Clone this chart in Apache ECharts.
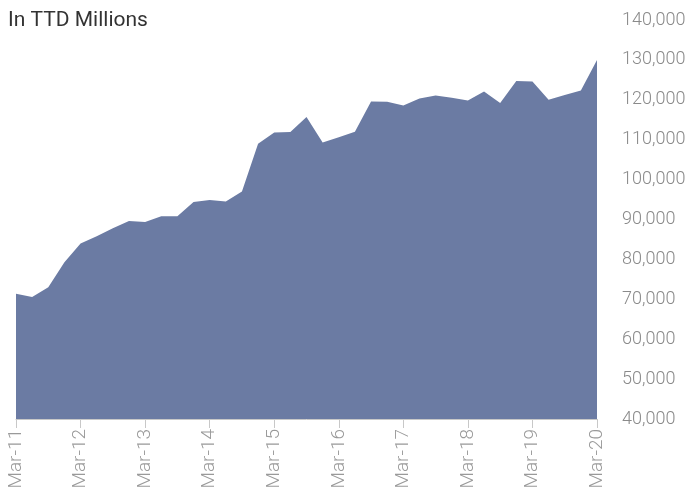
<!DOCTYPE html>
<html>
<head>
<meta charset="utf-8">
<script src="https://cdn.jsdelivr.net/npm/echarts@6/dist/echarts.min.js"></script>
<style>
  html, body { margin: 0; padding: 0; background: #fff; }
  #chart { width: 691px; height: 498px; }
</style>
</head>
<body>
<div id="chart"></div>
<script>
// quarterly, Mar-11 .. Mar-20
var years = ['11', '12', '13', '14', '15', '16', '17', '18', '19', '20']
var quarters = ['Mar', 'Jun', 'Sep', 'Dec']
var categories = []
for (var y = 0; y < years.length; y++) {
  for (var q = 0; q < quarters.length; q++) {
    if (y === years.length - 1 && q > 0) break
    categories.push(quarters[q] + '-' + years[y])
  }
}
var values = [
  71400, 70600, 73000, 79300, 84000, 85800, 87800, 89600,
  89400, 90800, 90800, 94400, 94900, 94500, 97000, 109000,
  111800, 111900, 115700, 109300, 110600, 112000, 119600, 119500,
  118600, 120300, 121100, 120500, 119800, 122100, 119200, 124700,
  124600, 120000, 121200, 122300, 130000
]
var yMin = 40000
var yMax = 140000
var yStep = 10000

var chart = echarts.init(document.getElementById('chart'))
chart.setOption({
  animation: false,
  title: {
    text: 'In TTD Millions',
    left: 3,
    top: 5,
    textStyle: {
      color: '#333',
      fontFamily: 'Roboto',
      fontWeight: 'normal',
      fontSize: 21
    }
  },
  grid: {
    left: 16,
    right: 94,
    top: 20,
    bottom: 79,
    containLabel: false
  },
  xAxis: {
    type: 'category',
    boundaryGap: false,
    data: categories,
    z: 5,
    axisLine: { lineStyle: { color: '#c8c8c8' } },
    axisTick: {
      interval: 3,
      length: 9,
      lineStyle: { color: '#c8c8c8' }
    },
    axisLabel: {
      interval: 3,
      rotate: 90,
      margin: 10,
      color: '#9a9a9a',
      fontFamily: 'Roboto',
      fontWeight: 300,
      fontSize: 19
    },
    splitLine: { show: false }
  },
  yAxis: {
    type: 'value',
    position: 'right',
    min: yMin,
    max: yMax,
    interval: yStep,
    axisLine: { show: false },
    axisTick: { show: false },
    splitLine: { show: false },
    axisLabel: {
      margin: 25,
      color: '#8a8a8a',
      fontFamily: 'Roboto',
      fontWeight: 300,
      fontSize: 18,
      formatter: function (v) {
        return v.toLocaleString('en-US')
      }
    }
  },
  series: [{
    type: 'line',
    data: values,
    symbol: 'none',
    lineStyle: { width: 0 },
    areaStyle: { color: '#6b7ba3', opacity: 1, origin: 'start' }
  }]
})
</script>
</body>
</html>
